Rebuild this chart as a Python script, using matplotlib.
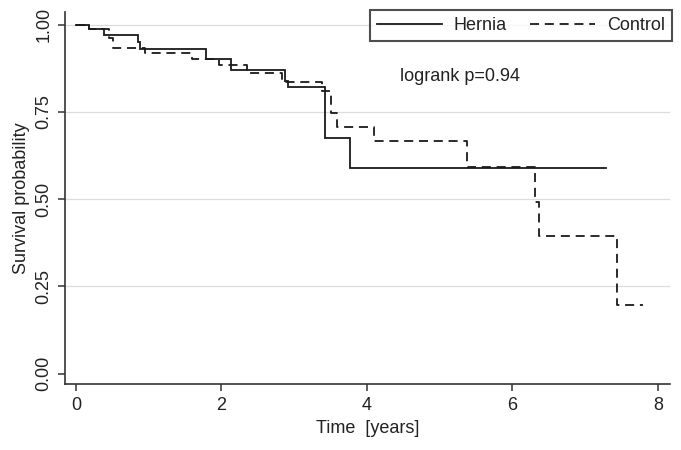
import matplotlib
matplotlib.use("Agg")
import matplotlib.pyplot as plt

plt.rcParams['font.family'] = ['Liberation Sans', 'DejaVu Sans']

# Kaplan-Meier step data
hernia_time = [0, 0.18, 0.38, 0.86, 0.88, 1.79, 2.13, 2.88, 2.91, 3.42, 3.77, 7.29]
hernia_surv = [1.0, 0.987, 0.970, 0.951, 0.932, 0.902, 0.871, 0.839, 0.823, 0.675, 0.590, 0.590]

control_time = [0, 0.18, 0.46, 0.51, 0.95, 1.60, 1.97, 2.35, 2.83, 3.38, 3.51, 3.59,
                4.09, 5.37, 6.31, 6.36, 7.43, 7.79]
control_surv = [1.0, 0.987, 0.962, 0.933, 0.919, 0.902, 0.885, 0.861, 0.836, 0.809, 0.747,
                0.706, 0.667, 0.592, 0.493, 0.395, 0.197, 0.197]

x_ticks = [0, 2, 4, 6, 8]
y_ticks = [0.00, 0.25, 0.50, 0.75, 1.00]
y_ticklabels = ["0.00", "0.25", "0.50", "0.75", "1.00"]
grid_levels = [0.25, 0.50, 0.75, 1.00]

fig = plt.figure(figsize=(6.81, 4.5), dpi=100)
ax = fig.add_axes([65 / 681, 1 - 384 / 450, (670 - 65) / 681, (384 - 12) / 450])

line_color = '#1a1a1a'
for g in grid_levels:
    ax.axhline(g, color='#dcdcdc', lw=0.9, zorder=0)

ax.step(hernia_time, hernia_surv, where='post', color=line_color, lw=1.3,
        label='Hernia', solid_joinstyle='miter')
ax.step(control_time, control_surv, where='post', color=line_color, lw=1.3,
        linestyle=(0, (5.0, 3.2)), label='Control')

ax.set_xlim(-0.15, 8.165)
ax.set_ylim(-0.03, 1.037)
ax.set_xticks(x_ticks)
ax.set_yticks(y_ticks)
ax.set_yticklabels(y_ticklabels, rotation=90, va='center')

for s in ['top', 'right']:
    ax.spines[s].set_visible(False)
for s in ['left', 'bottom']:
    ax.spines[s].set_color('#333333')
    ax.spines[s].set_linewidth(1.2)

ax.tick_params(axis='both', direction='out', length=5, width=1.1, color='#333333',
               labelsize=13, labelcolor='#222222', pad=4)

ax.set_xlabel('Time  [years]', fontsize=13, color='#222222', labelpad=5)
ax.set_ylabel('Survival probability', fontsize=13, color='#222222', labelpad=4)

ax.text(5.28, 0.851, 'logrank p=0.94', fontsize=13, color='#222222', ha='center', va='center')

leg = ax.legend(loc='upper right', ncol=2, frameon=True, fancybox=False, fontsize=13,
                handlelength=3.6, handletextpad=0.65, columnspacing=1.3,
                borderpad=0.4, bbox_to_anchor=(1.004, 1.006), borderaxespad=0.0)
leg.get_frame().set_edgecolor('#222222')
leg.get_frame().set_linewidth(1.5)
for t in leg.get_texts():
    t.set_color('#222222')

fig.savefig('out.png', dpi=100)
